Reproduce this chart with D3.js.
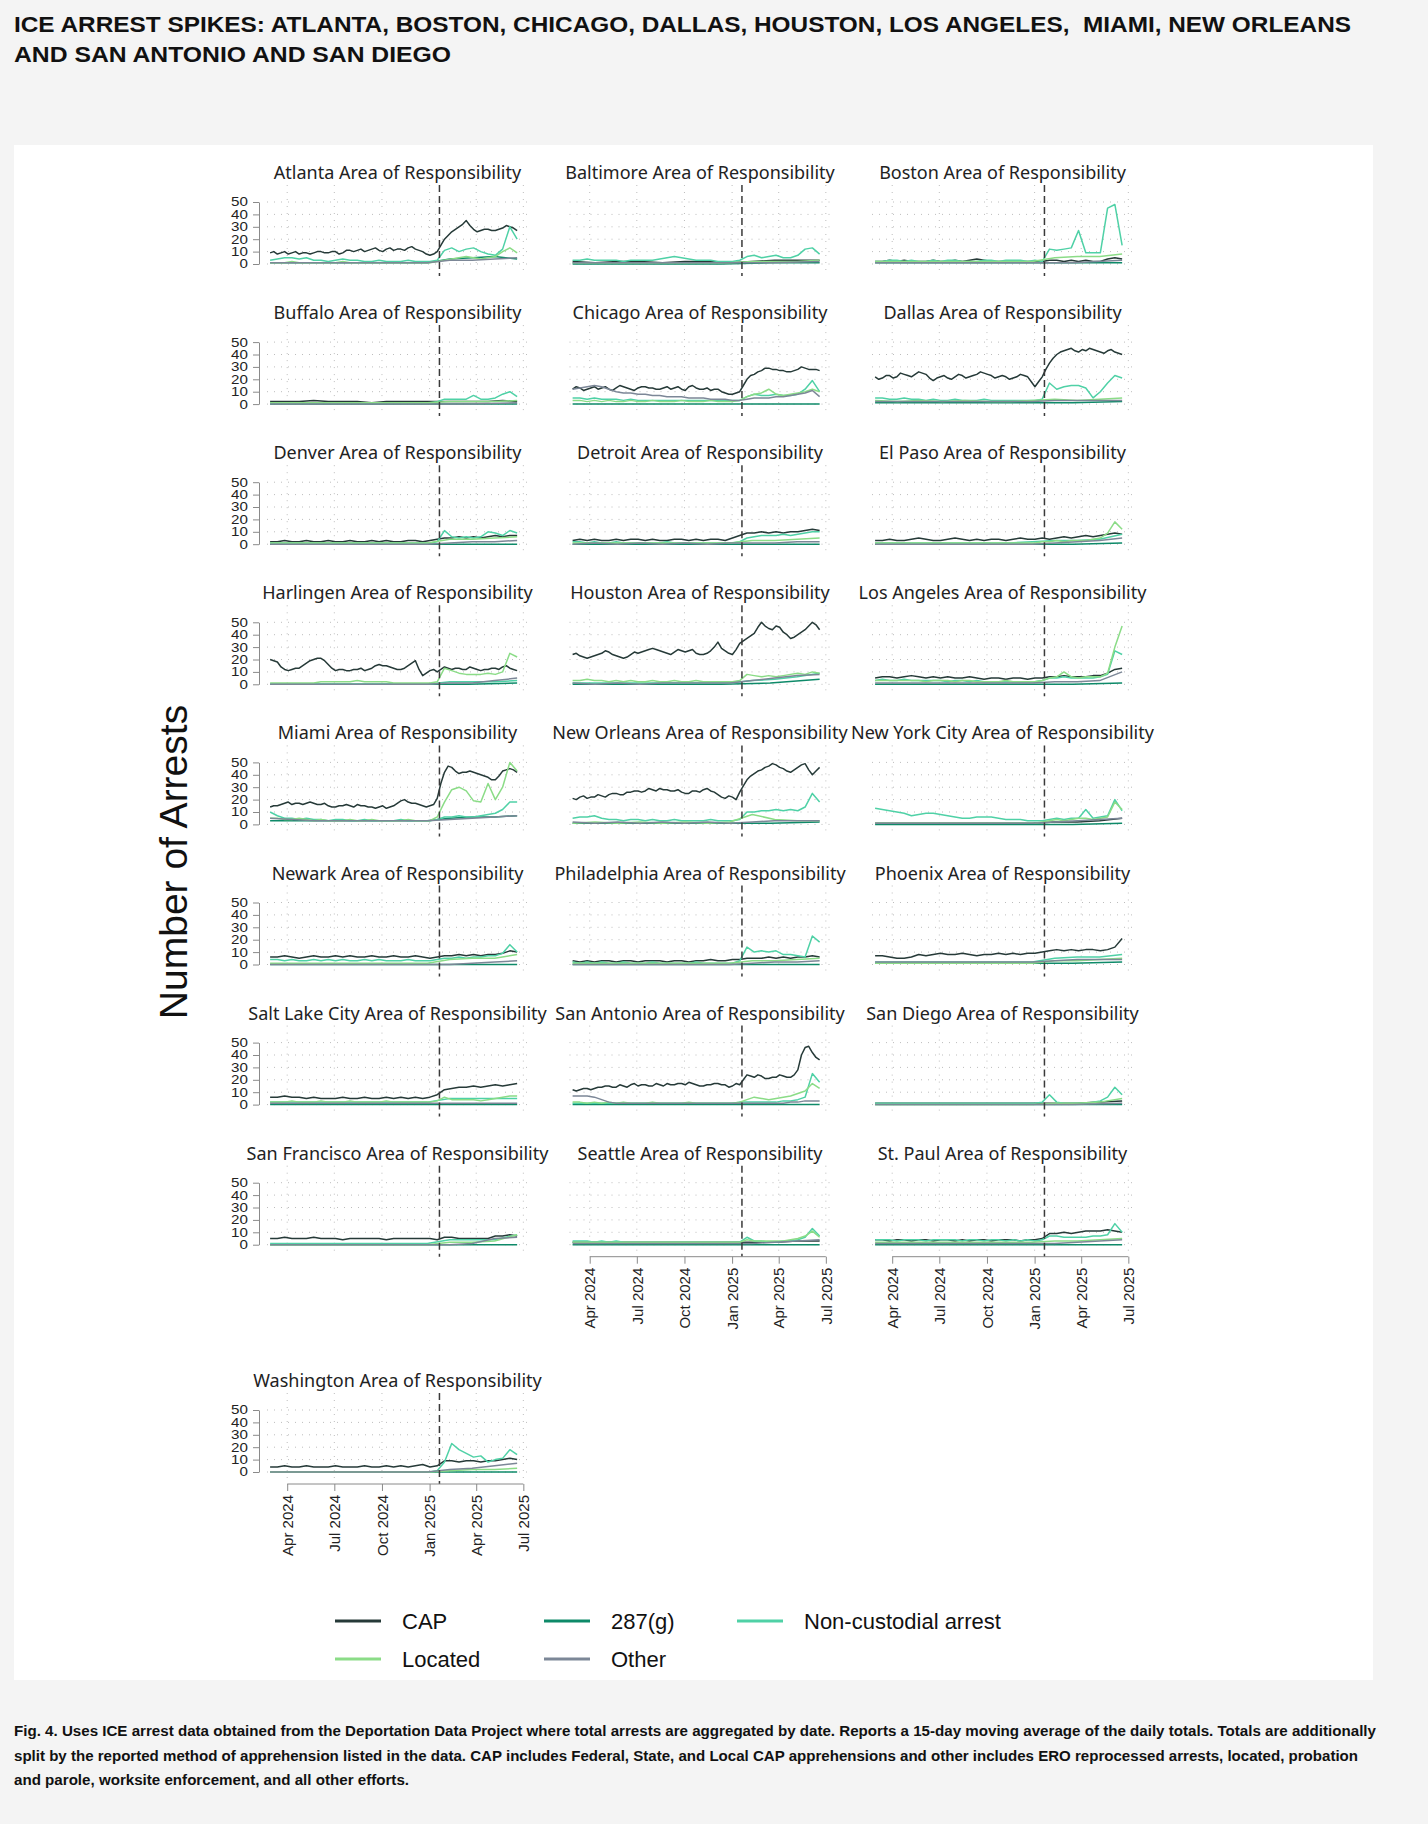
<!DOCTYPE html>
<html><head><meta charset="utf-8">
<script src="https://cdn.jsdelivr.net/npm/d3@7"></script>
<style>
html,body{margin:0;padding:0;background:#f4f4f4;}
svg{display:block;}
</style></head>
<body>
<svg id="chart" width="1428" height="1824"></svg>
<script>
// ---------- DATA (15-day moving averages) ----------
const seriesNames = ["CAP", "287(g)", "Non-custodial arrest", "Located", "Other"];
const xTickLabels = ["Apr 2024", "Jul 2024", "Oct 2024", "Jan 2025", "Apr 2025", "Jul 2025"];
const yTickValues = [0, 10, 20, 30, 40, 50];
const panelNames = ["Atlanta","Baltimore","Boston","Buffalo","Chicago","Dallas","Denver","Detroit","El Paso",
  "Harlingen","Houston","Los Angeles","Miami","New Orleans","New York City","Newark","Philadelphia","Phoenix",
  "Salt Lake City","San Antonio","San Diego","San Francisco","Seattle","St. Paul","Washington"];

const atlanta_cap = [9,10,8,9,10,8,9,10,8,9,9,8,9,10,10,9,9,10,10,8,9,11,11,10,11,12,10,11,12,13,11,10,12,13,11,12,12,11,13,14,12,11,10,8,7,8,10,15,20,23,26,28,30,32,35,31,28,26,27,28,28,27,27,28,29,31,30,29,27];
const atlanta_g287 = [1,1,1,1,1,1,1,1,4,5,6,4];
const atlanta_nca = [3,4,5,5,4,5,3,3,2,3,4,3,3,2,2,3,2,2,2,3,2,2,2,3,11,13,10,12,13,10,8,7,12,30,20];
const atlanta_located = [1,1,1,2,1,1,1,1,1,1,2,1,1,1,1,1,1,1,1,1,1,1,1,2,3,4,5,6,5,4,5,6,10,13,9];
const atlanta_other = [1,1,1,1,1,1,1,1,3,3,4,5];

const baltimore_cap = [2,1,2,2,1,2,2,1,2,3,3,3];
const baltimore_g287 = [0,0,0,0,1,1];
const baltimore_nca = [3,3,4,3,3,3,3,2,3,3,3,3,4,5,6,5,4,3,3,3,2,2,2,3,6,7,5,6,7,5,5,7,12,13,8];
const baltimore_located = [1,1,1,1,1,1,1,1,2,2,2,3];
const baltimore_other = [1,1,1,1,1,2];

const boston_cap = [2,2,3,2,3,2,2,2,3,2,2,3,2,3,4,3,2,2,2,2,2,2,2,2,3,3,2,3,2,3,2,2,4,5,4];
const boston_g287 = [1,1,1,1,1,1];
const boston_nca = [2,2,3,3,2,3,2,2,3,2,3,3,2,2,2,3,3,2,3,3,3,2,3,2,12,11,12,13,27,9,9,9,45,48,15];
const boston_located = [2,2,2,2,2,2,2,2,5,6,6,8];
const boston_other = [1,1,1,1,1,3];

const buffalo_cap = [2,2,2,3,2,2,2,1,2,2,2,2,2,2,2,2,3,2];
const buffalo_g287 = [0,0,0,0,0,0];
const buffalo_nca = [1,1,1,1,1,1,1,1,1,1,1,1,1,1,1,1,1,1,1,1,1,1,1,2,4,4,4,4,7,4,4,5,8,10,6];
const buffalo_located = [1,1,1,1,1,1,1,1,2,2,2,3];
const buffalo_other = [0,0,0,0,0,1];

const chicago_cap = [12,14,13,11,12,13,14,12,13,14,12,11,13,15,14,13,12,11,13,14,14,13,13,12,12,13,14,12,13,14,12,11,14,15,13,12,12,13,11,12,12,10,9,8,8,9,10,15,20,23,24,26,27,29,29,28,28,27,27,26,26,27,28,30,29,28,28,28,27];
const chicago_g287 = [0,0,0,0,0,0,0,0];
const chicago_nca = [5,5,4,5,4,4,4,3,4,3,3,3,3,3,3,3,3,3,3,3,3,3,3,3,6,8,7,7,8,7,7,8,12,19,10];
const chicago_located = [3,3,2,3,2,3,2,2,3,2,2,3,2,2,2,3,2,2,2,3,2,2,2,3,6,8,9,12,8,7,8,9,10,12,10];
const chicago_other = [12,13,14,15,14,12,10,9,9,8,8,7,7,6,6,6,5,5,5,4,4,4,3,3,4,5,5,5,6,6,7,8,9,11,6];

const dallas_cap = [22,20,21,23,23,21,22,25,24,23,22,24,26,25,24,21,19,21,22,23,21,20,22,24,23,21,22,23,24,26,25,24,23,21,22,23,22,20,21,22,24,23,22,18,14,18,22,28,33,37,40,42,43,44,45,43,42,44,43,45,44,43,42,41,43,44,42,41,40];
const dallas_g287 = [1,1,1,1,1,2];
const dallas_nca = [5,5,4,4,5,4,4,3,4,3,3,4,3,3,3,4,3,3,3,3,3,3,3,4,17,12,14,15,15,13,5,10,17,23,21];
const dallas_located = [3,2,3,2,3,2,2,3,4,3,4,5];
const dallas_other = [2,2,2,2,2,2,2,2,3,3,3,3];

const denver_cap = [2,2,3,2,2,3,2,2,3,2,2,3,2,2,3,2,3,2,2,3,3,2,3,4,5,5,6,5,6,5,6,7,6,7,7];
const denver_g287 = [0,0,0,0,0,0];
const denver_nca = [1,1,1,1,1,1,1,1,1,1,1,1,1,1,1,1,1,1,1,1,1,1,1,2,11,6,5,6,5,6,10,9,7,11,9];
const denver_located = [1,1,1,1,1,1,1,1,4,4,5,6];
const denver_other = [0,0,0,0,0,0,0,0,1,2,2,3];

const detroit_cap = [3,4,3,4,3,3,4,3,4,4,3,4,3,3,4,4,3,4,3,4,4,3,5,7,9,9,10,9,10,9,10,10,11,12,11];
const detroit_g287 = [0,0,0,0,0,0];
const detroit_nca = [2,2,1,2,1,1,2,1,1,1,1,1,1,2,1,1,1,1,1,1,1,1,1,2,5,6,7,7,7,8,7,8,9,10,10];
const detroit_located = [1,1,1,1,1,1,1,1,3,3,4,5];
const detroit_other = [0,1,0,1,0,1,0,1,1,1,2,2];

const elpaso_cap = [3,3,4,3,3,4,5,4,3,3,4,5,4,3,4,3,4,4,3,4,5,4,4,5,4,5,6,5,6,7,6,7,8,9,8];
const elpaso_g287 = [0,0,0,0,0,1];
const elpaso_nca = [1,1,1,1,1,1,1,2,3,3,4,8];
const elpaso_located = [1,1,1,1,1,1,1,1,1,1,1,1,1,1,1,1,1,1,1,1,1,1,1,2,2,3,2,3,3,3,4,5,9,18,12];
const elpaso_other = [0,0,0,0,0,0,0,0,1,2,3,5];

const harlingen_cap = [20,19,18,14,12,11,12,13,13,15,17,19,20,21,21,19,16,13,11,12,12,11,11,12,12,13,11,12,13,15,16,15,15,14,13,12,12,13,15,17,19,12,7,9,11,12,10,12,14,13,12,13,13,12,12,14,13,12,11,12,12,13,13,12,14,15,13,12,11];
const harlingen_g287 = [0,0,0,0,0,1];
const harlingen_nca = [0,0,0,0,0,0,0,0,2,2,2,3];
const harlingen_located = [1,1,1,1,1,1,1,2,2,2,2,2,3,2,2,2,2,1,1,1,1,1,1,2,13,11,9,8,8,8,9,8,10,25,22];
const harlingen_other = [0,0,0,0,0,0,0,0,1,1,3,5];

const houston_cap = [24,25,23,22,21,22,23,24,25,27,26,24,23,22,21,22,24,26,25,26,27,28,29,28,27,26,25,24,26,28,27,26,27,28,25,24,24,25,27,30,34,29,27,25,24,28,33,35,37,39,41,46,50,47,45,44,47,46,42,40,37,38,40,42,44,47,50,48,44];
const houston_g287 = [0,0,0,0,1,4];
const houston_nca = [1,1,1,1,1,1,1,1,3,4,6,9];
const houston_located = [3,3,4,3,3,2,3,2,3,2,2,3,2,2,3,2,2,3,2,2,2,2,2,3,8,7,6,7,6,7,8,9,8,10,9];
const houston_other = [1,0,1,0,1,1,1,1,3,5,7,8];

const losangeles_cap = [5,6,6,5,6,7,6,5,6,5,6,5,5,6,5,4,5,5,4,5,5,4,5,5,6,6,7,6,6,6,7,7,9,12,13];
const losangeles_g287 = [0,0,0,0,0,1];
const losangeles_nca = [3,4,3,3,4,3,3,3,3,3,2,3,3,2,3,2,2,2,2,2,2,2,2,3,5,5,6,5,5,5,5,6,8,27,24];
const losangeles_located = [3,3,3,3,3,3,3,2,3,3,3,2,3,3,2,2,2,2,3,2,2,2,2,3,5,6,10,6,5,6,6,6,9,30,47];
const losangeles_other = [1,1,1,1,1,1,1,1,2,2,3,10];

const miami_cap = [14,15,15,16,17,18,16,17,17,16,17,18,17,16,16,17,15,14,14,15,15,16,15,14,16,15,15,14,14,13,14,15,13,14,15,17,19,20,18,17,17,16,15,14,15,16,21,33,42,47,46,43,41,42,42,43,42,41,40,39,38,36,36,39,43,44,45,44,42];
const miami_g287 = [3,3,3,3,3,3,3,3,5,6,6,7];
const miami_nca = [10,7,5,5,4,5,4,4,3,4,4,3,3,4,3,3,3,3,4,3,3,3,3,4,6,6,7,6,6,7,8,9,12,18,18];
const miami_located = [5,5,4,4,5,4,3,4,3,3,3,4,3,3,4,3,3,3,3,4,3,3,3,6,18,28,30,27,19,18,33,20,30,50,43];
const miami_other = [5,4,3,3,3,3,3,3,4,5,6,7];

const neworleans_cap = [21,20,22,23,21,22,22,24,23,22,24,25,25,24,24,26,26,27,27,26,27,29,28,27,29,28,28,27,27,28,26,25,25,27,27,26,28,29,27,26,24,22,21,23,22,20,26,31,36,39,41,43,44,46,47,49,48,46,45,43,42,44,46,48,49,44,40,43,46];
const neworleans_g287 = [1,1,1,1,1,2];
const neworleans_nca = [5,6,6,7,5,4,4,3,4,4,3,4,3,3,4,3,3,3,3,4,3,3,3,4,10,10,11,11,12,11,12,11,14,25,18];
const neworleans_located = [1,2,1,2,1,2,1,2,8,4,3,3];
const neworleans_other = [2,1,2,1,2,1,2,1,2,3,3,3];

const newyork_cap = [1,1,1,1,1,1,1,1,2,2,3,5];
const newyork_g287 = [0,0,0,0,0,1];
const newyork_nca = [13,12,11,10,9,7,8,9,9,8,7,6,5,5,6,6,6,5,4,4,4,3,3,3,4,5,4,5,5,12,5,6,7,20,11];
const newyork_located = [1,1,1,1,1,1,1,1,1,1,1,1,1,1,1,1,1,1,1,1,1,1,1,2,3,4,3,4,5,5,4,5,6,18,12];
const newyork_other = [1,1,1,1,1,1,1,1,2,3,4,5];

const newark_cap = [6,6,7,6,5,6,7,6,6,7,6,7,6,6,7,6,6,7,6,6,7,6,5,6,7,7,8,7,8,7,8,8,9,11,10];
const newark_g287 = [0,0,0,0,0,0];
const newark_nca = [4,4,3,4,3,3,4,3,4,3,4,3,3,4,3,4,3,3,3,4,3,3,3,4,5,5,6,5,6,6,7,7,9,16,10];
const newark_located = [1,1,1,1,1,1,1,1,4,5,5,8];
const newark_other = [0,0,0,0,0,0,0,0,0,1,2,3];

const philadelphia_cap = [3,2,3,2,3,3,2,3,3,2,3,3,3,2,3,3,2,3,3,4,3,3,4,4,5,5,5,6,5,6,5,6,6,7,6];
const philadelphia_g287 = [0,0,0,0,0,0];
const philadelphia_nca = [2,1,2,1,2,1,1,2,1,1,1,2,1,1,1,1,1,2,1,1,1,1,1,3,14,10,11,10,11,8,8,7,6,23,18];
const philadelphia_located = [1,1,1,1,1,1,1,1,3,3,4,5];
const philadelphia_other = [0,0,0,0,0,0,0,0,1,2,2,3];

const phoenix_cap = [7,7,6,5,5,6,8,7,8,9,8,8,9,8,7,8,8,9,8,9,8,9,9,10,11,12,11,12,11,12,12,11,12,14,21];
const phoenix_g287 = [1,1,1,1,1,2];
const phoenix_nca = [2,2,2,2,2,2,2,2,5,6,6,8];
const phoenix_located = [1,1,1,1,1,1,1,1,3,3,4,5];
const phoenix_other = [2,2,2,2,2,2,2,2,3,4,4,4];

const saltlake_cap = [6,6,7,6,6,5,6,5,5,5,6,5,5,6,5,5,6,5,6,5,6,5,6,8,12,13,14,14,15,14,15,16,15,16,17];
const saltlake_g287 = [0,0,0,0,0,0];
const saltlake_nca = [2,2,2,2,2,2,2,2,5,5,5,5];
const saltlake_located = [2,2,2,3,2,2,2,3,2,2,2,3,2,2,2,2,3,2,2,2,2,2,2,3,6,4,4,4,4,3,4,5,6,7,7];
const saltlake_other = [1,1,1,1,1,1,1,1,1,1,1,1];

const sanantonio_cap = [12,11,12,13,13,12,13,14,14,15,15,14,14,16,15,14,16,17,15,16,16,15,15,17,16,15,17,16,16,17,17,16,18,17,16,15,15,16,16,17,17,16,16,14,15,17,16,20,24,23,22,24,23,21,21,22,22,24,23,22,22,24,28,40,46,47,42,38,36];
const sanantonio_g287 = [0,0,0,0,0,0];
const sanantonio_nca = [1,1,1,1,1,1,1,1,1,1,1,1,1,1,1,1,1,1,1,1,1,1,1,2,2,2,2,2,2,3,3,4,6,25,18];
const sanantonio_located = [2,2,1,2,1,2,1,2,1,1,1,2,1,1,1,1,2,1,1,1,1,1,1,2,4,6,5,4,5,6,7,9,11,17,13];
const sanantonio_other = [7,7,7,6,4,2,1,1,1,1,1,1,1,1,1,1,1,1,1,1,1,1,1,1,1,1,1,1,1,1,2,2,3,3,3];

const sandiego_cap = [1,1,1,1,1,1,1,1,1,1,2,3];
const sandiego_g287 = [0,0,0,0,0,0];
const sandiego_nca = [1,1,1,1,1,1,1,1,1,1,1,1,1,1,1,1,1,1,1,1,1,1,1,2,8,2,1,1,1,1,2,3,6,14,8];
const sandiego_located = [0,0,0,0,0,0,0,0,1,1,2,5];
const sandiego_other = [0,0,0,0,0,1];

const sanfrancisco_cap = [5,5,6,5,5,5,6,5,5,5,4,5,5,5,5,5,4,5,5,5,5,5,5,4,6,6,5,5,5,5,5,7,7,8,7];
const sanfrancisco_g287 = [0,0,0,0,0,0];
const sanfrancisco_nca = [1,1,1,1,1,1,1,1,4,4,4,8];
const sanfrancisco_located = [0,0,0,0,0,0,0,0,2,2,3,8];
const sanfrancisco_other = [0,0,0,0,0,0,0,0,0,1,5,6];

const seattle_cap = [2,2,2,2,2,2,2,2,2,2,3,3];
const seattle_g287 = [0,0,0,0,0,0];
const seattle_nca = [3,3,3,2,3,2,3,2,2,2,2,2,2,2,2,2,2,2,2,2,2,2,2,2,6,3,3,2,2,3,3,4,6,13,7];
const seattle_located = [2,2,2,2,2,2,2,2,2,2,2,2,2,2,2,2,2,2,2,2,2,2,2,2,4,3,3,3,3,3,4,5,7,11,6];
const seattle_other = [1,1,1,1,1,1,1,1,1,2,3,4];

const stpaul_cap = [4,4,3,4,4,3,4,4,3,4,4,3,4,3,4,4,3,4,4,4,3,4,4,5,9,9,10,9,10,11,11,11,12,11,10];
const stpaul_g287 = [0,0,0,0,0,0];
const stpaul_nca = [4,4,4,3,4,4,4,3,4,4,4,4,3,4,4,3,4,4,3,4,3,4,3,4,7,7,6,6,6,6,7,7,8,17,10];
const stpaul_located = [2,2,2,2,2,2,2,2,3,3,4,5];
const stpaul_other = [1,1,1,1,1,1,1,1,1,2,3,4];

const washington_cap = [4,4,5,4,4,5,4,4,4,5,4,4,4,5,4,4,5,4,5,4,5,6,4,5,9,9,8,9,9,8,9,9,10,11,10];
const washington_g287 = [0,0,0,0,0,0];
const washington_nca = [0,0,0,0,0,0,0,0,0,0,0,0,0,0,0,0,0,0,0,0,0,0,0,1,8,23,18,15,12,13,8,10,11,18,14];
const washington_located = [0,0,0,0,0,0,0,0,1,2,2,3];
const washington_other = [0,0,0,0,0,0,0,0,2,3,5,7];

const panelSeries = [
  [atlanta_cap, atlanta_g287, atlanta_nca, atlanta_located, atlanta_other],
  [baltimore_cap, baltimore_g287, baltimore_nca, baltimore_located, baltimore_other],
  [boston_cap, boston_g287, boston_nca, boston_located, boston_other],
  [buffalo_cap, buffalo_g287, buffalo_nca, buffalo_located, buffalo_other],
  [chicago_cap, chicago_g287, chicago_nca, chicago_located, chicago_other],
  [dallas_cap, dallas_g287, dallas_nca, dallas_located, dallas_other],
  [denver_cap, denver_g287, denver_nca, denver_located, denver_other],
  [detroit_cap, detroit_g287, detroit_nca, detroit_located, detroit_other],
  [elpaso_cap, elpaso_g287, elpaso_nca, elpaso_located, elpaso_other],
  [harlingen_cap, harlingen_g287, harlingen_nca, harlingen_located, harlingen_other],
  [houston_cap, houston_g287, houston_nca, houston_located, houston_other],
  [losangeles_cap, losangeles_g287, losangeles_nca, losangeles_located, losangeles_other],
  [miami_cap, miami_g287, miami_nca, miami_located, miami_other],
  [neworleans_cap, neworleans_g287, neworleans_nca, neworleans_located, neworleans_other],
  [newyork_cap, newyork_g287, newyork_nca, newyork_located, newyork_other],
  [newark_cap, newark_g287, newark_nca, newark_located, newark_other],
  [philadelphia_cap, philadelphia_g287, philadelphia_nca, philadelphia_located, philadelphia_other],
  [phoenix_cap, phoenix_g287, phoenix_nca, phoenix_located, phoenix_other],
  [saltlake_cap, saltlake_g287, saltlake_nca, saltlake_located, saltlake_other],
  [sanantonio_cap, sanantonio_g287, sanantonio_nca, sanantonio_located, sanantonio_other],
  [sandiego_cap, sandiego_g287, sandiego_nca, sandiego_located, sandiego_other],
  [sanfrancisco_cap, sanfrancisco_g287, sanfrancisco_nca, sanfrancisco_located, sanfrancisco_other],
  [seattle_cap, seattle_g287, seattle_nca, seattle_located, seattle_other],
  [stpaul_cap, stpaul_g287, stpaul_nca, stpaul_located, stpaul_other],
  [washington_cap, washington_g287, washington_nca, washington_located, washington_other]
];

// ---------- STYLE / LAYOUT ----------
const seriesColors = ["#263a38", "#0e8a69", "#4fd1a6", "#8bdc87", "#7c8797"];
const drawOrder = [0, 1, 2, 3, 4];
const dataStart = new Date(2024, 1, 28), dataEnd = new Date(2025, 5, 19);
const domainStart = new Date(2024, 1, 22), domainEnd = new Date(2025, 6, 10);
const xTickDates = [new Date(2024,3,1), new Date(2024,6,1), new Date(2024,9,1), new Date(2025,0,1), new Date(2025,3,1), new Date(2025,6,1)];
const inauguration = new Date(2025, 0, 20);

const svg = d3.select("#chart");
svg.append("rect").attr("x",0).attr("y",0).attr("width",1428).attr("height",1824).attr("fill","#f4f4f4");
svg.append("rect").attr("x",14).attr("y",145).attr("width",1359).attr("height",1535).attr("fill","#ffffff");

// Title
const titleLines = ["ICE ARREST SPIKES: ATLANTA, BOSTON, CHICAGO, DALLAS, HOUSTON, LOS ANGELES,  MIAMI, NEW ORLEANS",
                    "AND SAN ANTONIO AND SAN DIEGO"];
const titleWidths = [1337, 437];
titleLines.forEach((t, i) => {
  svg.append("text").attr("x", 14).attr("y", 32 + i*29.5)
    .attr("font-family", "Liberation Sans, Arial, sans-serif").attr("font-weight", "bold")
    .attr("font-size", 22.5).attr("fill", "#111")
    .attr("textLength", titleWidths[i]).attr("lengthAdjust", "spacingAndGlyphs")
    .style("white-space", "pre")
    .text(t);
});

const plotW = 261, colStep = 302.5, rowStep = 140.1;
function panelPos(k) {
  if (k === 24) return {x0: 267, y0: 1472};
  const r = Math.floor(k / 3), c = k % 3;
  return {x0: 267 + c*colStep, y0: 264 + r*rowStep};
}
const bottomPanels = [22, 23, 24];

panelSeries.forEach((series, k) => {
  const {x0, y0} = panelPos(k);
  const c = k === 24 ? 0 : k % 3;
  const x = d3.scaleTime().domain([domainStart, domainEnd]).range([x0, x0 + plotW]);
  const y = d3.scaleLinear().domain([0, 50]).range([y0, y0 - 62]);
  const g = svg.append("g");
  const top = y0 - 79, bottom = y0 + 12;

  // dotted grid
  g.selectAll(".hg").data(yTickValues).join("line")
    .attr("x1", x0).attr("x2", x0 + plotW).attr("y1", d => y(d)).attr("y2", d => y(d))
    .attr("stroke", "#bdbdbd").attr("stroke-width", 1).attr("stroke-dasharray", "1,6");
  g.selectAll(".vg").data(xTickDates).join("line")
    .attr("x1", d => x(d)).attr("x2", d => x(d)).attr("y1", top).attr("y2", bottom)
    .attr("stroke", "#bdbdbd").attr("stroke-width", 1).attr("stroke-dasharray", "1,6");

  // title
  g.append("text").attr("x", x0 + plotW/2).attr("y", y0 - 85)
    .attr("text-anchor", "middle").attr("font-family", "Noto Sans, sans-serif")
    .attr("font-size", 18).attr("fill", "#222")
    .text(panelNames[k] + " Area of Responsibility");

  // series lines
  drawOrder.forEach(s => {
    const vals = series[s];
    const n = vals.length;
    const t = d3.scaleLinear().domain([0, n - 1]).range([+dataStart, +dataEnd]);
    const line = d3.line().x((v, i) => x(new Date(t(i)))).y(v => y(v));
    g.append("path").attr("d", line(vals)).attr("fill", "none")
      .attr("stroke", seriesColors[s]).attr("stroke-width", 1.5)
      .attr("stroke-linejoin", "round");
  });

  // inauguration dashed line
  const isBottom = bottomPanels.includes(k);
  g.append("line").attr("x1", x(inauguration)).attr("x2", x(inauguration))
    .attr("y1", top).attr("y2", bottom)
    .attr("stroke", "#3a3a3a").attr("stroke-width", 1.5).attr("stroke-dasharray", "7,4");

  // y axis (first column only)
  if (c === 0) {
    const ya = g.append("g").attr("transform", `translate(${x0 - 8},0)`)
      .call(d3.axisLeft(y).tickValues(yTickValues).tickSize(6).tickSizeOuter(0).tickPadding(5));
    ya.select(".domain").attr("stroke", "#8a8a8a");
    ya.selectAll(".tick line").attr("stroke", "#8a8a8a");
    ya.selectAll(".tick text").attr("font-family", "Liberation Sans, Arial, sans-serif")
      .attr("font-size", 11).attr("fill", "#222")
      .attr("x", 0).attr("transform", "translate(-11,0) scale(1.38,1.12)");
  }

  // x axis for bottom panels
  if (isBottom) {
    const xa = g.append("g").attr("transform", `translate(0,${bottom})`)
      .call(d3.axisBottom(x).tickValues(xTickDates).tickFormat((d, i) => xTickLabels[i]).tickSize(7).tickSizeOuter(0));
    xa.select(".domain").attr("stroke", "#8a8a8a")
      .attr("d", `M${x(xTickDates[0])},0H${x(xTickDates[5])}`);
    xa.selectAll(".tick line").attr("stroke", "#8a8a8a");
    xa.selectAll(".tick text").attr("font-family", "Liberation Sans, Arial, sans-serif")
      .attr("font-size", 15).attr("fill", "#222")
      .attr("text-anchor", "end").attr("transform", "rotate(-90)")
      .attr("x", -11).attr("y", 0).attr("dy", "0.35em");
  }
});

// y-axis title
svg.append("text").attr("transform", "translate(187,862) rotate(-90)")
  .attr("text-anchor", "middle").attr("font-family", "Liberation Sans, Arial, sans-serif")
  .attr("font-size", 39).attr("fill", "#111").text("Number of Arrests");

// legend
const legendPos = [[335,1621],[544,1621],[737,1621],[335,1659],[544,1659]];
const lg = svg.append("g");
seriesNames.forEach((nm, i) => {
  const [lx, ly] = legendPos[i];
  lg.append("line").attr("x1", lx).attr("x2", lx + 46).attr("y1", ly).attr("y2", ly)
    .attr("stroke", seriesColors[i]).attr("stroke-width", 3.2);
  lg.append("text").attr("x", lx + 67).attr("y", ly + 8)
    .attr("font-family", "Liberation Sans, Arial, sans-serif").attr("font-size", 22)
    .attr("fill", "#111").text(nm);
});

// caption
const captionLines = [
  "Fig. 4. Uses ICE arrest data obtained from the Deportation Data Project where total arrests are aggregated by date. Reports a 15-day moving average of the daily totals. Totals are additionally",
  "split by the reported method of apprehension listed in the data. CAP includes Federal, State, and Local CAP apprehensions and other includes ERO reprocessed arrests, located, probation",
  "and parole, worksite enforcement, and all other efforts."
];
const captionWidths = [1362, 1344, 395];
captionLines.forEach((t, i) => {
  svg.append("text").attr("x", 14).attr("y", 1736 + i*24.5)
    .attr("font-family", "Liberation Sans, Arial, sans-serif").attr("font-weight", "bold")
    .attr("font-size", 14.5).attr("fill", "#111")
    .attr("textLength", captionWidths[i]).attr("lengthAdjust", "spacingAndGlyphs")
    .text(t);
});
</script>
</body></html>
